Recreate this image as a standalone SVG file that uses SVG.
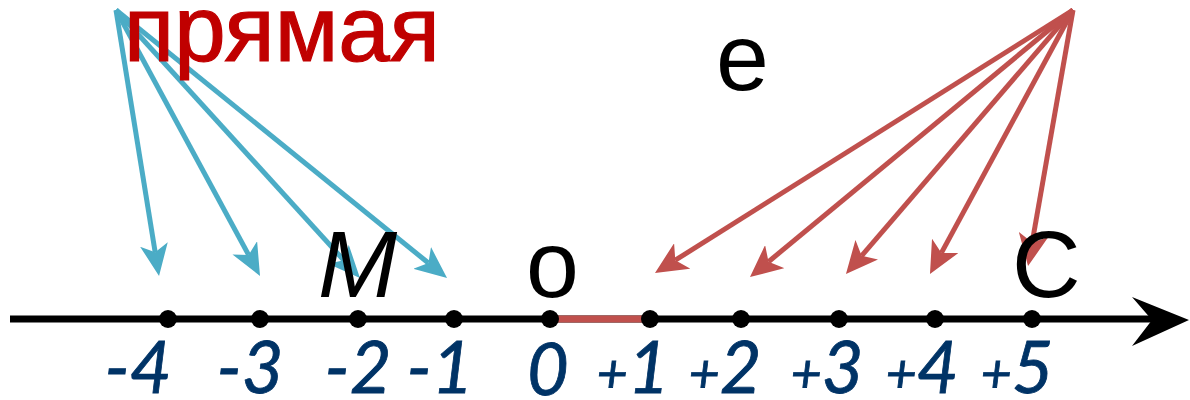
<svg xmlns="http://www.w3.org/2000/svg" width="1190" height="400" viewBox="0 0 1190 400">
<style>
.blue{stroke:#4BACC6;stroke-width:5;fill:none;marker-end:url(#ab)}
.red{stroke:#C0504D;stroke-width:5;fill:none;marker-end:url(#ar)}
.num{font-family:Lato,"Open Sans",sans-serif;font-style:italic;font-size:72px;fill:#003366;stroke:#003366;stroke-width:0.8;text-anchor:middle}
.pl{font-size:54px}
.big{font-family:"Liberation Sans",Arial,sans-serif;font-size:95px;fill:#000}
.dot{fill:#000}
</style>
<defs>
<marker id="ab" markerUnits="userSpaceOnUse" viewBox="0 0 32 28" refX="8" refY="14" markerWidth="32" markerHeight="28" orient="auto">
<path d="M0,0 L32,14 L0,28 L8,14 Z" fill="#4BACC6"/>
</marker>
<marker id="ar" markerUnits="userSpaceOnUse" viewBox="0 0 32 30" refX="8" refY="15" markerWidth="32" markerHeight="30" orient="auto">
<path d="M0,0 L32,15 L0,30 L8,15 Z" fill="#C0504D"/>
</marker>
</defs>
<g id="axis">
<line x1="10" y1="319" x2="1152" y2="319" stroke="#000" stroke-width="7"/>
<polygon points="1132,297 1189,320 1132,346 1152,320" fill="#000"/>
<line x1="556" y1="319" x2="646" y2="319" stroke="#C0504D" stroke-width="7"/>
</g>
<g id="connectors">
<line class="blue" x1="116" y1="10" x2="155.2" y2="252.3"/>
<line class="blue" x1="116" y1="10" x2="248.6" y2="254.9"/>
<line class="blue" x1="116" y1="10" x2="343.8" y2="260.2"/>
<line class="blue" x1="116" y1="10" x2="428.4" y2="263"/>
<line class="red" x1="1073" y1="10" x2="675.3" y2="260.2"/>
<line class="red" x1="1073" y1="10" x2="768.5" y2="261.7"/>
<line class="red" x1="1073" y1="10" x2="861.6" y2="255.8"/>
<line class="red" x1="1073" y1="10" x2="941.4" y2="252.9"/>
<line class="red" x1="1073" y1="10" x2="1032.2" y2="242.4"/>
</g>
<g id="points">
<circle class="dot" cx="168" cy="319" r="9"/>
<circle class="dot" cx="260" cy="319" r="9"/>
<circle class="dot" cx="358" cy="319" r="9"/>
<circle class="dot" cx="454" cy="319" r="9"/>
<circle class="dot" cx="550" cy="319" r="9"/>
<circle class="dot" cx="650" cy="319" r="9"/>
<circle class="dot" cx="741" cy="319" r="9"/>
<circle class="dot" cx="839" cy="319" r="9"/>
<circle class="dot" cx="935" cy="319" r="9"/>
<circle class="dot" cx="1032" cy="319" r="9"/>
</g>
<g id="labels">
<text class="num" x="138" y="393">-4</text>
<text class="num" x="250" y="393">-3</text>
<text class="num" x="358" y="393">-2</text>
<text class="num" x="440" y="393">-1</text>
<text class="num" x="548" y="395">0</text>
<text class="num" x="633" y="393"><tspan class="pl">+</tspan>1</text>
<text class="num" x="725" y="393"><tspan class="pl">+</tspan>2</text>
<text class="num" x="827" y="393"><tspan class="pl">+</tspan>3</text>
<text class="num" x="922" y="393"><tspan class="pl">+</tspan>4</text>
<text class="num" x="1017" y="393"><tspan class="pl">+</tspan>5</text>
</g>
<g id="title">
<text x="124" y="61" font-family="'Liberation Sans',Arial,sans-serif" font-size="92" fill="#C00000" stroke="#C00000" stroke-width="1.2" textLength="316" lengthAdjust="spacingAndGlyphs">прямая</text>
</g>
<g id="letters">
<text class="big" x="716" y="90">e</text>
<text class="big" x="318" y="297" font-style="italic">M</text>
<text class="big" x="526" y="297">o</text>
<text class="big" x="1012" y="297">C</text>
</g>
</svg>
